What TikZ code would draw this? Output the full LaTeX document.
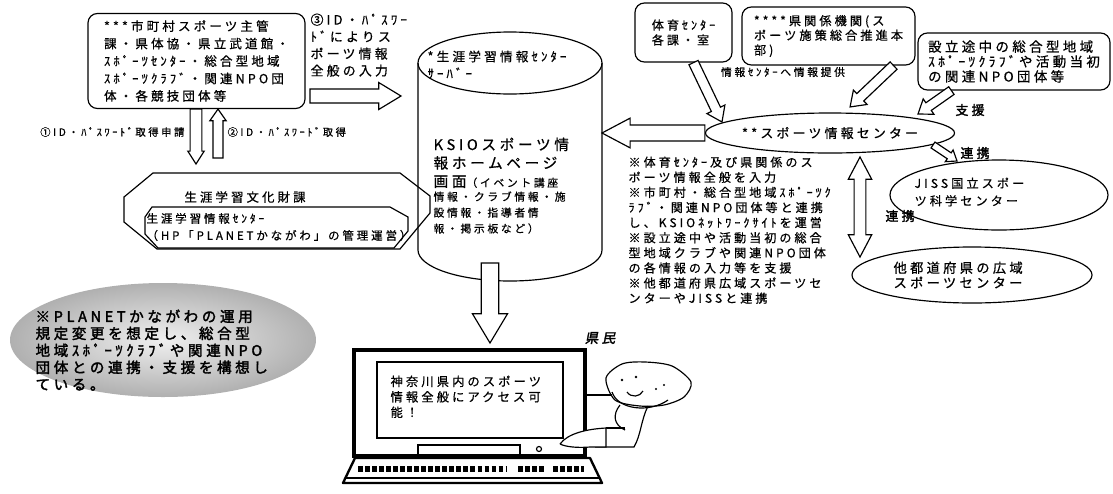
\documentclass[tikz,border=0pt]{standalone}
\usepackage{fontspec}
\setmainfont{Noto Sans CJK JP}[LetterSpace=25, FakeBold=0.7,
  BoldFont={Noto Sans CJK JP}, BoldFeatures={FakeBold=2.2},
  ItalicFont={Noto Sans CJK JP}, ItalicFeatures={FakeSlant=0.2},
  BoldItalicFont={Noto Sans CJK JP}, BoldItalicFeatures={FakeBold=2.2,FakeSlant=0.2}]
\usepackage{tikz}
\usetikzlibrary{calc}
\usetikzlibrary{positioning}
\usetikzlibrary{shapes.geometric}
\tikzstyle{rbox} = [draw, rounded corners=8pt, align=left]
\tikzstyle{oval} = [draw, ellipse]
\tikzstyle{txt} = [anchor=north west, align=left]
\newcommand{\fsz}[2]{\fontsize{#1}{#2}\selectfont}
% hollow block arrow: from, to, half shaft, half head, head length
\newcommand{\fatarrow}[5]{%
  \path let \p1=#1, \p2=#2, \n1={atan2(\y2-\y1,\x2-\x1)}, \n2={veclen(\x2-\x1,\y2-\y1)} in
    \pgfextra{\xdef\fatang{\n1}\xdef\fatlen{\n2}\xdef\fatx{\x1}\xdef\faty{\y1}};
  \begin{scope}[shift={(\fatx,\faty)}, rotate=\fatang]
    \draw[fill=white] (0pt,-#3) -- ({\fatlen-#5},-#3) -- ({\fatlen-#5},-#4) -- ({\fatlen+0pt},0pt)
      -- ({\fatlen-#5},#4) -- ({\fatlen-#5},#3) -- (0pt,#3) -- cycle;
  \end{scope}}
% same, with a head at both ends
\newcommand{\dblarrow}[5]{%
  \path let \p1=#1, \p2=#2, \n1={atan2(\y2-\y1,\x2-\x1)}, \n2={veclen(\x2-\x1,\y2-\y1)} in
    \pgfextra{\xdef\fatang{\n1}\xdef\fatlen{\n2}\xdef\fatx{\x1}\xdef\faty{\y1}};
  \begin{scope}[shift={(\fatx,\faty)}, rotate=\fatang]
    \draw[fill=white] (0pt,0pt) -- (#5,-#4) -- (#5,-#3) -- ({\fatlen-#5},-#3) -- ({\fatlen-#5},-#4)
      -- ({\fatlen+0pt},0pt) -- ({\fatlen-#5},#4) -- ({\fatlen-#5},#3) -- (#5,#3) -- (#5,#4) -- cycle;
  \end{scope}}

\begin{document}
\begin{tikzpicture}[x=0.03cm, y=-0.03cm, line width=1pt, every node/.style={inner sep=0pt}]
\useasboundingbox (0,0) rectangle (1113,493);

% registration side
\node [rbox, minimum width=6.51cm, minimum height=2.85cm, font=\fsz{10.7}{14.9}] (org) at (196.5,61)
  {***市町村スポーツ主管\\課・県体協・県立武道館・\\ｽﾎﾟｰﾂｾﾝﾀｰ・総合型地域\\ｽﾎﾟｰﾂｸﾗﾌﾞ・関連NPO団\\体・各競技団体等};
\node [txt, font=\fsz{11}{14.5}] (step3) at (310,13) {③ID・ﾊﾟｽﾜｰ\\ﾄﾞによりス\\ポーツ情報\\全般の入力};
\node [anchor=east, font=\fsz{8.8}{11}] (pw1) at (185,132) {①ID・ﾊﾟｽﾜｰﾄﾞ取得申請};
\node [anchor=west, font=\fsz{8.8}{11}] (pw2) at (227,132) {②ID・ﾊﾟｽﾜｰﾄﾞ取得};

\draw (153,173) -- (400,173) -- (430,196) -- (430,213) -- (400,249) -- (157,249) -- (124,222) -- (124,197) -- cycle;
\draw (152,207) -- (390,207) -- (408,217) -- (408,231) -- (394,248) -- (158,248) -- (145,234) -- (145,217) -- cycle;
\node [font=\fsz{10.6}{13}] (dept) at (245,197) {生涯学習文化財課};
\node [anchor=west, align=left, font=\fsz{9.8}{14.5}] (infoctr) at (146,227) {生涯学習情報ｾﾝﾀｰ\\（HP「PLANETかながわ」の管理運営）};
\coordinate (deptN1) at (196,164);
\coordinate (deptN2) at (218,158);

% server
\draw (510,63) ellipse [x radius=92, y radius=31];
\draw (418,63) -- (418,250) arc [start angle=180, end angle=0, x radius=92, y radius=31] -- (602,63);
\node [txt, font=\fsz{10.8}{14.5}] (srvtop) at (427,50) {*生涯学習情報ｾﾝﾀｰ\\ｻｰﾊﾞｰ};
\node [txt, font=\fsz{12.5}{15.7}] (srvpage) at (433,137) {KSIOスポーツ情\\報ホームページ\\画面{\fsz{9.2}{15.7}（イベント講座}};
\node [below=2pt of srvpage.south west, anchor=north west, align=left, font=\fsz{9.2}{13.6}] (srvlist)
  {情報・クラブ情報・施\\設情報・指導者情\\報・掲示板など）};
\coordinate (srvin) at (401,96);
\coordinate (srvout) at (490,263);
\coordinate (srvR) at (602,133);

\fatarrow{(310,96)}{(srvin)}{6pt}{11.5pt}{19pt}
\fatarrow{(org.south -| deptN1)}{(deptN1)}{5pt}{7pt}{11pt}
\fatarrow{(deptN2)}{(org.south -| deptN2)}{4.3pt}{7pt}{10pt}

% sports information centre
\node [oval, minimum width=6.9cm, minimum height=1.2cm, font=\fsz{11}{13}] (spctr) at (830,133) {**スポーツ情報センター};
\node [rbox, minimum width=2.91cm, minimum height=1.77cm, font=\fsz{10.3}{12.75}] (taiiku) at (683.5,32.5) {体育ｾﾝﾀｰ\\各課・室};
\node [rbox, minimum width=5.19cm, minimum height=1.74cm, font=\fsz{10.4}{12.5}] (kenorg) at (828.5,36) {****県関係機関(ス\\ポーツ施策総合推進本\\部)};
\node [rbox, minimum width=5.76cm, minimum height=1.71cm, font=\fsz{11.5}{12.75}] (newclub) at (1014,61.5) {設立途中の総合型地域\\ｽﾎﾟｰﾂｸﾗﾌﾞや活動当初\\の関連NPO団体等};
\node [font=\fsz{9.2}{11}] (provide) at (783,72) {情報ｾﾝﾀｰへ情報提供};
\node [font=\bfseries\fsz{11}{13}] (shien) at (970,110) {支援};

\fatarrow{($(taiiku.south)+(10,0)$)}{(722,122)}{4.3pt}{8.5pt}{12pt}
\fatarrow{($(kenorg.south east)+(-22,0)$)}{(850,107)}{4.3pt}{8.5pt}{12pt}
\fatarrow{($(newclub.south west)+(34,0)$)}{(918,114)}{4pt}{8pt}{11pt}
\fatarrow{(spctr.west)}{(srvR)}{6.8pt}{12.7pt}{24pt}

\node [oval, minimum width=6.54cm, minimum height=2.1cm] (jiss) at (999,195) {};
\node [anchor=west, align=left, font=\fsz{10.4}{15}] (jisstext) at (914,192) {JISS国立スポー\\ツ科学センター};
\node [oval, minimum width=7.2cm, minimum height=1.68cm] (wide) at (972,275) {};
\node [anchor=west, align=left, font=\fsz{11.3}{12.75}] (widetext) at (893,275) {他都道府県の広域\\スポーツセンター};
\node [font=\bfseries\fsz{11}{13}] (link1) at (975,153) {連携};
\node [font=\bfseries\fsz{11}{13}] (link2) at (900,216) {連携};
\coordinate (jissN) at (957,161);
\coordinate (wideN) at (860,257);
\fatarrow{(933,145)}{(jissN)}{3pt}{6pt}{8pt}
\dblarrow{(860,157)}{(wideN)}{5pt}{10pt}{19pt}

\node [txt, font=\fsz{10.3}{12.9}] (notes) at (628,156)
  {※体育ｾﾝﾀｰ及び県関係のス\\ポーツ情報全般を入力\\※市町村・総合型地域ｽﾎﾟｰﾂｸ\\ﾗﾌﾞ・関連NPO団体等と連携\\し、KSIOﾈｯﾄﾜｰｸｻｲﾄを運営\\※設立途中や活動当初の総合\\型地域クラブや関連NPO団体\\の各情報の入力等を支援\\※他都道府県広域スポーツセ\\ンターやJISSと連携};

% remark
\shade [inner color=gray!12, outer color=gray!62] (163,340) ellipse [x radius=153, y radius=57];
\node [txt, font=\bfseries\fsz{12.4}{14.5}] (planet) at (35,309)
  {※PLANETかながわの運用\\規定変更を想定し、総合型\\地域ｽﾎﾟｰﾂｸﾗﾌﾞや関連NPO\\団体との連携・支援を構想し\\ている。};

% citizen at the computer
\coordinate (pcN) at (490,343);
\fatarrow{(srvout)}{(pcN)}{7.5pt}{15pt}{25pt}
\draw [line width=2.6pt] (354,350) rectangle (585,456);
\draw [line width=1.2pt] (377,362) rectangle (563,438);
\draw (418,456) -- (418,445) -- (520,445) -- (520,456);
\draw (539,449) circle (2.5);
\draw [line width=2pt, line join=round] (355,458) -- (590,458) -- (602,483) -- (343,483) -- cycle;
\draw (345,478) -- (600,478);
\draw [line width=5.5pt, dash pattern=on 4pt off 2pt] (358,469) -- (507,469);
\draw [line width=5.5pt, dash pattern=on 4pt off 2pt] (518,469) -- (546,469);
\draw [line width=5.5pt, dash pattern=on 4pt off 2pt] (553,469) -- (584,469);
\node [txt, font=\fsz{10.5}{13.2}] (screen) at (390,375) {神奈川県内のスポーツ\\情報全般にアクセス可\\能！};
\node [font=\bfseries\itshape\fsz{11.5}{13}] (kenmin) at (600,338) {県民};

\draw plot [smooth cycle] coordinates {(606,378) (622,364) (645,362) (672,366) (691,382) (684,397) (664,405) (640,406) (615,400)};
\draw (612,392) .. controls (618,410) and (650,413) .. (668,400);
\fill (622,380) circle (1.4);
\fill (636,377) circle (1.4);
\fill (656,389) circle (1.2);
\fill (664,385) circle (1.2);
\draw (627,392) .. controls (631,398) and (640,397) .. (643,391);
\draw (585,395) -- (612,395);
\draw (620,405) .. controls (612,415) and (614,425) .. (625,430);
\draw (648,406) .. controls (641,420) and (641,435) .. (634,447) -- (595,447);
\draw (606,428) -- (625,428);
\draw [fill=white] (560,444) .. controls (568,433) and (588,429) .. (606,428) -- (606,447) -- (590,447) .. controls (578,448) and (566,447) .. (560,444);
\end{tikzpicture}
\end{document}
